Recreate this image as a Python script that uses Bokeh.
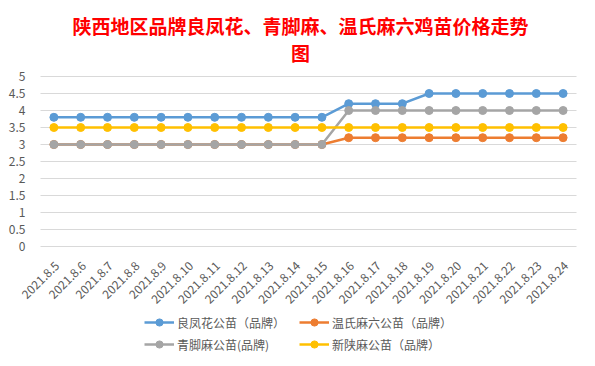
import math
from bokeh.plotting import figure
from bokeh.models import Range1d, Legend, LegendItem, Title, FixedTicker
from bokeh.embed import file_html
from bokeh.resources import INLINE

dates = ["2021.8.5", "2021.8.6", "2021.8.7", "2021.8.8", "2021.8.9", "2021.8.10",
         "2021.8.11", "2021.8.12", "2021.8.13", "2021.8.14", "2021.8.15", "2021.8.16",
         "2021.8.17", "2021.8.18", "2021.8.19", "2021.8.20", "2021.8.21", "2021.8.22",
         "2021.8.23", "2021.8.24"]
liangfenghua = [3.8] * 11 + [4.2] * 3 + [4.5] * 6
wenshi = [3.0] * 11 + [3.2] * 9
qingjiao = [3.0] * 11 + [4.0] * 9
xinshan = [3.5] * 20
y_ticks = [0, 0.5, 1, 1.5, 2, 2.5, 3, 3.5, 4, 4.5, 5]

names = ["良凤花公苗（品牌）", "温氏麻六公苗（品牌）", "青脚麻公苗(品牌)", "新陕麻公苗（品牌）"]
colors = ["#5B9BD5", "#ED7D31", "#A5A5A5", "#FFC000"]
series = [liangfenghua, wenshi, qingjiao, xinshan]
title_line1 = "陕西地区品牌良凤花、青脚麻、温氏麻六鸡苗价格走势"
title_line2 = "图"

FONT = "Noto Sans CJK SC"
W, H = 595, 366
TOP = 75
LEFT = 19
PX_PER_UNIT = 34.0
PX_PER_CAT = 26.8
CAT_LEFT_PX = 40
y_top = max(y_ticks) + 1 / PX_PER_UNIT
y_bottom = y_top - (H - TOP) / PX_PER_UNIT
x_pos = list(range(len(dates)))
x_start = (LEFT - CAT_LEFT_PX) / PX_PER_CAT - 0.5
x_end = (W - CAT_LEFT_PX) / PX_PER_CAT - 0.5

p = figure(width=W, height=H, x_range=Range1d(x_start, x_end),
           y_range=Range1d(y_bottom, y_top), output_backend="svg", toolbar_location=None,
           min_border=0, min_border_left=LEFT, min_border_right=0, min_border_top=TOP,
           min_border_bottom=0)
p.outline_line_color = None
p.background_fill_color = "white"
p.border_fill_color = "white"
p.xaxis.visible = False
p.xgrid.grid_line_color = None
p.ygrid.grid_line_color = None

p.yaxis.ticker = FixedTicker(ticks=y_ticks)
p.yaxis.axis_line_color = None
p.yaxis.major_tick_line_color = None
p.yaxis.minor_tick_line_color = None
p.yaxis.major_label_text_font = FONT
p.yaxis.major_label_text_font_size = "12px"
p.yaxis.major_label_text_color = "#595959"
p.yaxis.major_label_standoff = -12

n = len(y_ticks)
# horizontal gridlines spanning the category area
p.segment(x0=[x_pos[0] - 0.5] * n, x1=[x_pos[-1] + 0.5] * n, y0=y_ticks, y1=y_ticks,
          line_color="#D9D9D9", line_width=1)

items = {}
for name, col, vals in zip(names, colors, series):
    l = p.line(x_pos, vals, line_color=col, line_width=2.5)
    c = p.scatter(x_pos, vals, size=8, fill_color=col, line_color=col)
    items[name] = LegendItem(label=name, renderers=[l, c])

# category labels under the zero line
p.text(x=x_pos, y=[0] * len(dates), text=dates, angle=math.pi / 4,
       text_align="right", text_baseline="middle", x_offset=3, y_offset=17,
       text_font={"value": FONT}, text_font_size="12px", text_color="#595959")

legend_kw = dict(orientation="horizontal",
                 label_text_font=FONT, label_text_font_size="12px",
                 label_text_color="#595959", glyph_width=30, glyph_height=18,
                 label_height=18, label_width=118, spacing=4, label_standoff=3,
                 border_line_color=None, background_fill_alpha=0, padding=0, margin=0)
leg1 = Legend(items=[items[names[0]], items[names[1]]], location=(125, 35), **legend_kw)
leg2 = Legend(items=[items[names[2]], items[names[3]]], location=(125, 13), **legend_kw)
p.add_layout(leg1, "center")
p.add_layout(leg2, "center")

pad = "\u3000" * 11 + "\u2002"
t = Title(text=title_line1 + "\n" + pad + title_line2, align="left", offset=53,
          text_font=FONT, text_font_size="19px", text_color="#FF0000",
          text_font_style="bold", text_line_height=1.0, standoff=19)
p.add_layout(t, "above")

open("out.html", "w").write(file_html(p, INLINE))
